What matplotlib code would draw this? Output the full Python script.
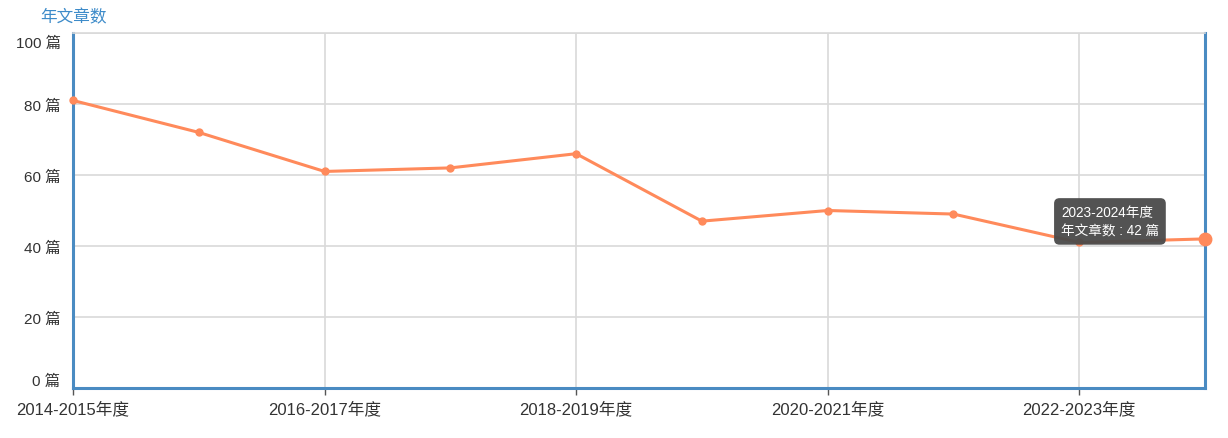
import numpy as np
import matplotlib
matplotlib.use('Agg')
import matplotlib.pyplot as plt
import matplotlib.transforms as mtransforms

plt.rcParams['font.family'] = ['Liberation Sans', 'Noto Sans CJK SC', 'DejaVu Sans']

years = ['2014-2015年度', '2015-2016年度', '2016-2017年度', '2017-2018年度',
         '2018-2019年度', '2019-2020年度', '2020-2021年度', '2021-2022年度',
         '2022-2023年度', '2023-2024年度']
counts = [81, 72, 61, 62, 66, 47, 50, 49, 41, 42]
y_ticks = [0, 20, 40, 60, 80, 100]

line_color = '#ff8a5b'
axis_color = '#4a8bc2'
grid_color = '#d9d9d9'
text_color = '#333333'

fig = plt.figure(figsize=(12.28, 4.39), dpi=100)
ax = fig.add_axes([73 / 1228, 50 / 439, 1132 / 1228, 355 / 439])

x = np.arange(len(years))
ax.plot(x, counts, color=line_color, lw=2.2, marker='o', ms=5, zorder=3,
        clip_on=False)
ax.plot(x[-1], counts[-1], 'o', color=line_color, ms=9, zorder=4, clip_on=False)

ax.set_xlim(0, len(years) - 1)
ax.set_ylim(0, 100)

ax.set_yticks(y_ticks)
ax.set_yticklabels([f'{v} 篇' for v in y_ticks])
ax.set_xticks(x[::2])
ax.set_xticklabels(years[::2])
ax.tick_params(axis='y', length=0, pad=9, labelsize=11, labelcolor=text_color)
ax.tick_params(axis='x', length=5, pad=4, labelsize=12, labelcolor=text_color,
               color='#555555', width=1)

# nudge first and last y labels inward
labels = ax.get_yticklabels()
labels[0].set_transform(labels[0].get_transform() +
                        mtransforms.ScaledTranslation(0, 9 / 100, fig.dpi_scale_trans))
labels[-1].set_transform(labels[-1].get_transform() +
                         mtransforms.ScaledTranslation(0, -8 / 100, fig.dpi_scale_trans))

ax.grid(True, color=grid_color, lw=1.2, zorder=0)
ax.set_axisbelow(True)

for side in ['left', 'right', 'bottom']:
    ax.spines[side].set_color(axis_color)
    ax.spines[side].set_linewidth(2.2)
ax.spines['top'].set_color(grid_color)
ax.spines['top'].set_linewidth(1.2)

fig.text(40 / 1228, 1 - 17 / 439, '年文章数', color='#3d8bc9', fontsize=12,
         va='center', ha='left')

# tooltip at the last point
ax.annotate(f'{years[-1]}\n年文章数 : {counts[-1]} 篇', xy=(x[-1], counts[-1]),
            xytext=(-46, 1), textcoords='offset pixels', color='white',
            fontsize=9.8, va='bottom', ha='right', multialignment='left',
            linespacing=1.45, zorder=5,
            bbox=dict(boxstyle='round,pad=0.5,rounding_size=0.4',
                      fc='#4a4a4a', ec='none', alpha=0.95))

fig.savefig('out.png', dpi=100)
